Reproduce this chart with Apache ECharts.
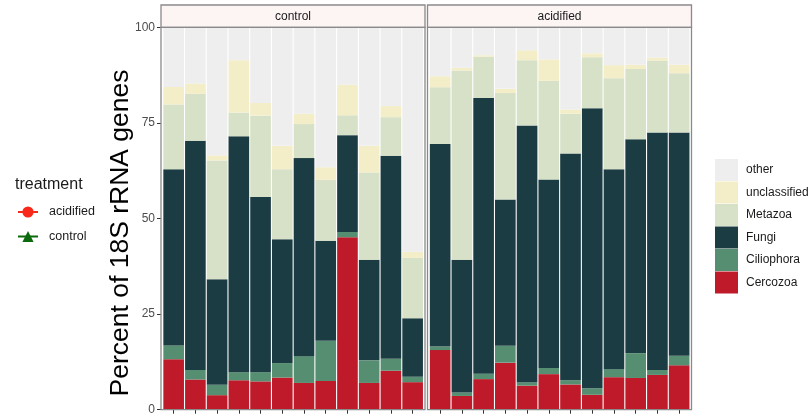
<!DOCTYPE html>
<html>
<head>
<meta charset="utf-8">
<script src="https://cdn.jsdelivr.net/npm/echarts@6/dist/echarts.min.js"></script>
<style>
  html, body { margin: 0; padding: 0; background: #fff; }
  #chart { width: 812px; height: 416px; }
</style>
</head>
<body>
<div id="chart"></div>
<script>
// Samples per treatment (12 each), percent of 18S rRNA genes by taxon
const samples = ['1','2','3','4','5','6','7','8','9','10','11','12'];
const taxa = ['Cercozoa', 'Ciliophora', 'Fungi', 'Metazoa', 'unclassified', 'other'];
const yTicks = [0, 25, 50, 75, 100];

// control
const controlCercozoa     = [13.2, 7.9, 3.8, 7.7, 7.4, 8.4, 7.0, 7.5, 45.1, 7.0, 10.2, 7.2];
const controlCiliophora   = [3.6, 2.5, 2.7, 2.1, 2.4, 3.8, 7.0, 10.5, 1.4, 5.9, 3.1, 1.4];
const controlFungi        = [46.1, 59.9, 27.6, 61.7, 45.8, 32.4, 51.8, 26.2, 25.3, 26.3, 53.1, 15.3];
const controlMetazoa      = [16.9, 12.3, 31.1, 6.2, 21.3, 18.3, 8.9, 15.9, 5.2, 22.8, 10.1, 15.8];
const controlUnclassified = [4.6, 2.7, 1.3, 13.7, 3.3, 6.1, 2.7, 3.3, 8.0, 7.0, 2.9, 1.6];
const controlOther        = [15.6, 14.7, 33.5, 8.6, 19.8, 31.0, 22.6, 36.6, 15.0, 31.0, 20.6, 58.7];

// acidified
const acidCercozoa     = [15.6, 3.6, 8.0, 12.3, 6.3, 9.3, 6.6, 3.9, 8.5, 8.3, 9.1, 11.6];
const acidCiliophora   = [0.9, 0.9, 1.4, 4.4, 0.8, 1.6, 1.1, 1.7, 2.1, 6.5, 1.3, 2.5];
const acidFungi        = [53.0, 34.7, 72.1, 38.3, 67.2, 49.3, 59.3, 73.2, 52.3, 55.9, 62.1, 58.4];
const acidMetazoa      = [14.8, 49.5, 10.8, 27.8, 17.1, 25.8, 10.4, 13.4, 23.8, 18.4, 18.8, 15.5];
const acidUnclassified = [2.9, 0.7, 0.4, 1.1, 2.6, 5.6, 1.1, 1.0, 3.4, 1.1, 0.8, 2.2];
const acidOther        = [12.8, 10.6, 7.3, 16.1, 6.0, 8.4, 21.5, 6.8, 9.9, 9.8, 7.9, 9.8];

const panels = [
  { label: 'control',   values: [controlCercozoa, controlCiliophora, controlFungi, controlMetazoa, controlUnclassified, controlOther] },
  { label: 'acidified', values: [acidCercozoa, acidCiliophora, acidFungi, acidMetazoa, acidUnclassified, acidOther] }
];

const taxonColors = {
  Cercozoa: '#BE1A29',
  Ciliophora: '#558E70',
  Fungi: '#1B3C42',
  Metazoa: '#D6E1C7',
  unclassified: '#F3EDC8',
  other: '#EEEEEE'
};

const FONT = '"Liberation Sans", Arial, Helvetica, sans-serif';

// panel geometry (bars fill each panel with a small margin)
const panelBox = [
  { x: 161, y: 27.3, w: 264, h: 382.4 },
  { x: 427.5, y: 27.3, w: 264, h: 382.4 }
];

const grids = panelBox.map(p => ({
  left: p.x + 1.8, top: p.y, width: p.w - 3.3, height: p.h,
  backgroundColor: '#FFFFFF', show: true, borderWidth: 0
}));

const xAxes = panelBox.map((p, i) => ({
  type: 'category', gridIndex: i, data: samples,
  boundaryGap: true,
  axisLine: { show: false },
  axisTick: { show: true, alignWithLabel: true, length: 4, lineStyle: { color: '#333333', width: 1 } },
  axisLabel: { show: false },
  splitLine: { show: false }
}));

const yAxes = panelBox.map((p, i) => ({
  type: 'value', gridIndex: i, min: yTicks[0], max: yTicks[yTicks.length - 1], interval: 25,
  offset: i === 0 ? 1.8 : 0,
  axisLine: { show: false },
  axisTick: { show: i === 0, length: 4, lineStyle: { color: '#333333', width: 1 } },
  axisLabel: { show: i === 0, margin: 6, color: '#4D4D4D', fontSize: 12, fontFamily: FONT },
  splitLine: { show: false }
}));

const series = [];
panels.forEach((panel, pi) => {
  taxa.forEach((taxon, ti) => {
    series.push({
      name: taxon,
      type: 'bar',
      xAxisIndex: pi,
      yAxisIndex: pi,
      stack: 'panel' + pi,
      barCategoryGap: '5%',
      data: panel.values[ti],
      itemStyle: { color: taxonColors[taxon] },
      emphasis: { disabled: true },
      animation: false
    });
  });
});

// treatment key entries
series.push({
  name: 'acidified', type: 'line', xAxisIndex: 0, yAxisIndex: 0, data: [],
  symbol: 'circle', symbolSize: 10,
  itemStyle: { color: '#F8291B' }, lineStyle: { color: '#F8291B', width: 1 }
});
series.push({
  name: 'control', type: 'line', xAxisIndex: 0, yAxisIndex: 0, data: [],
  symbol: 'triangle', symbolSize: 12,
  itemStyle: { color: '#0B6A0B' }, lineStyle: { color: '#0B6A0B', width: 1 }
});

const graphics = [];
panels.forEach((panel, i) => {
  const p = panelBox[i];
  graphics.push({
    type: 'rect', silent: true, z: 10,
    shape: { x: p.x, y: 5, width: p.w, height: 22.3 },
    style: { fill: '#FDF4F4', stroke: '#8A8A8A', lineWidth: 1.3 }
  });
  graphics.push({
    type: 'text', silent: true, z: 11,
    x: p.x + p.w / 2, y: 16.5,
    style: { text: panel.label, fill: '#1A1A1A', font: '12px ' + FONT, textAlign: 'center', textVerticalAlign: 'middle' }
  });
  graphics.push({
    type: 'rect', silent: true, z: 10,
    shape: { x: p.x, y: p.y, width: p.w, height: p.h },
    style: { fill: 'none', stroke: '#8A8A8A', lineWidth: 1.3 }
  });
});
graphics.push({
  type: 'text', silent: true,
  x: 121, y: 233, rotation: Math.PI / 2,
  style: { text: 'Percent of 18S rRNA genes', fill: '#000000', font: '26.5px ' + FONT, textAlign: 'center', textVerticalAlign: 'middle' }
});
graphics.push({
  type: 'text', silent: true,
  x: 15, y: 185,
  style: { text: 'treatment', fill: '#1A1A1A', font: '16px ' + FONT, textAlign: 'left', textVerticalAlign: 'middle' }
});

const option = {
  backgroundColor: '#FFFFFF',
  animation: false,
  grid: grids,
  xAxis: xAxes,
  yAxis: yAxes,
  legend: [
    {
      data: ['other', 'unclassified', 'Metazoa', 'Fungi', 'Ciliophora', 'Cercozoa'],
      orient: 'vertical', left: 715, top: 159, padding: 0,
      icon: 'rect', itemWidth: 23, itemHeight: 22, itemGap: 0.5,
      selectedMode: false,
      textStyle: { color: '#1A1A1A', fontSize: 12, fontFamily: FONT, padding: [0, 0, 0, 3] }
    },
    {
      data: ['acidified', 'control'],
      orient: 'vertical', left: 17, top: 205.5, padding: 0,
      itemWidth: 20, itemHeight: 14, itemGap: 11.5,
      selectedMode: false,
      textStyle: { color: '#1A1A1A', fontSize: 12.5, fontFamily: FONT, padding: [0, 0, 0, 6] }
    }
  ],
  graphic: graphics,
  series: series
};

const chart = echarts.init(document.getElementById('chart'), null, { renderer: 'canvas' });
chart.setOption(option);
</script>
</body>
</html>
